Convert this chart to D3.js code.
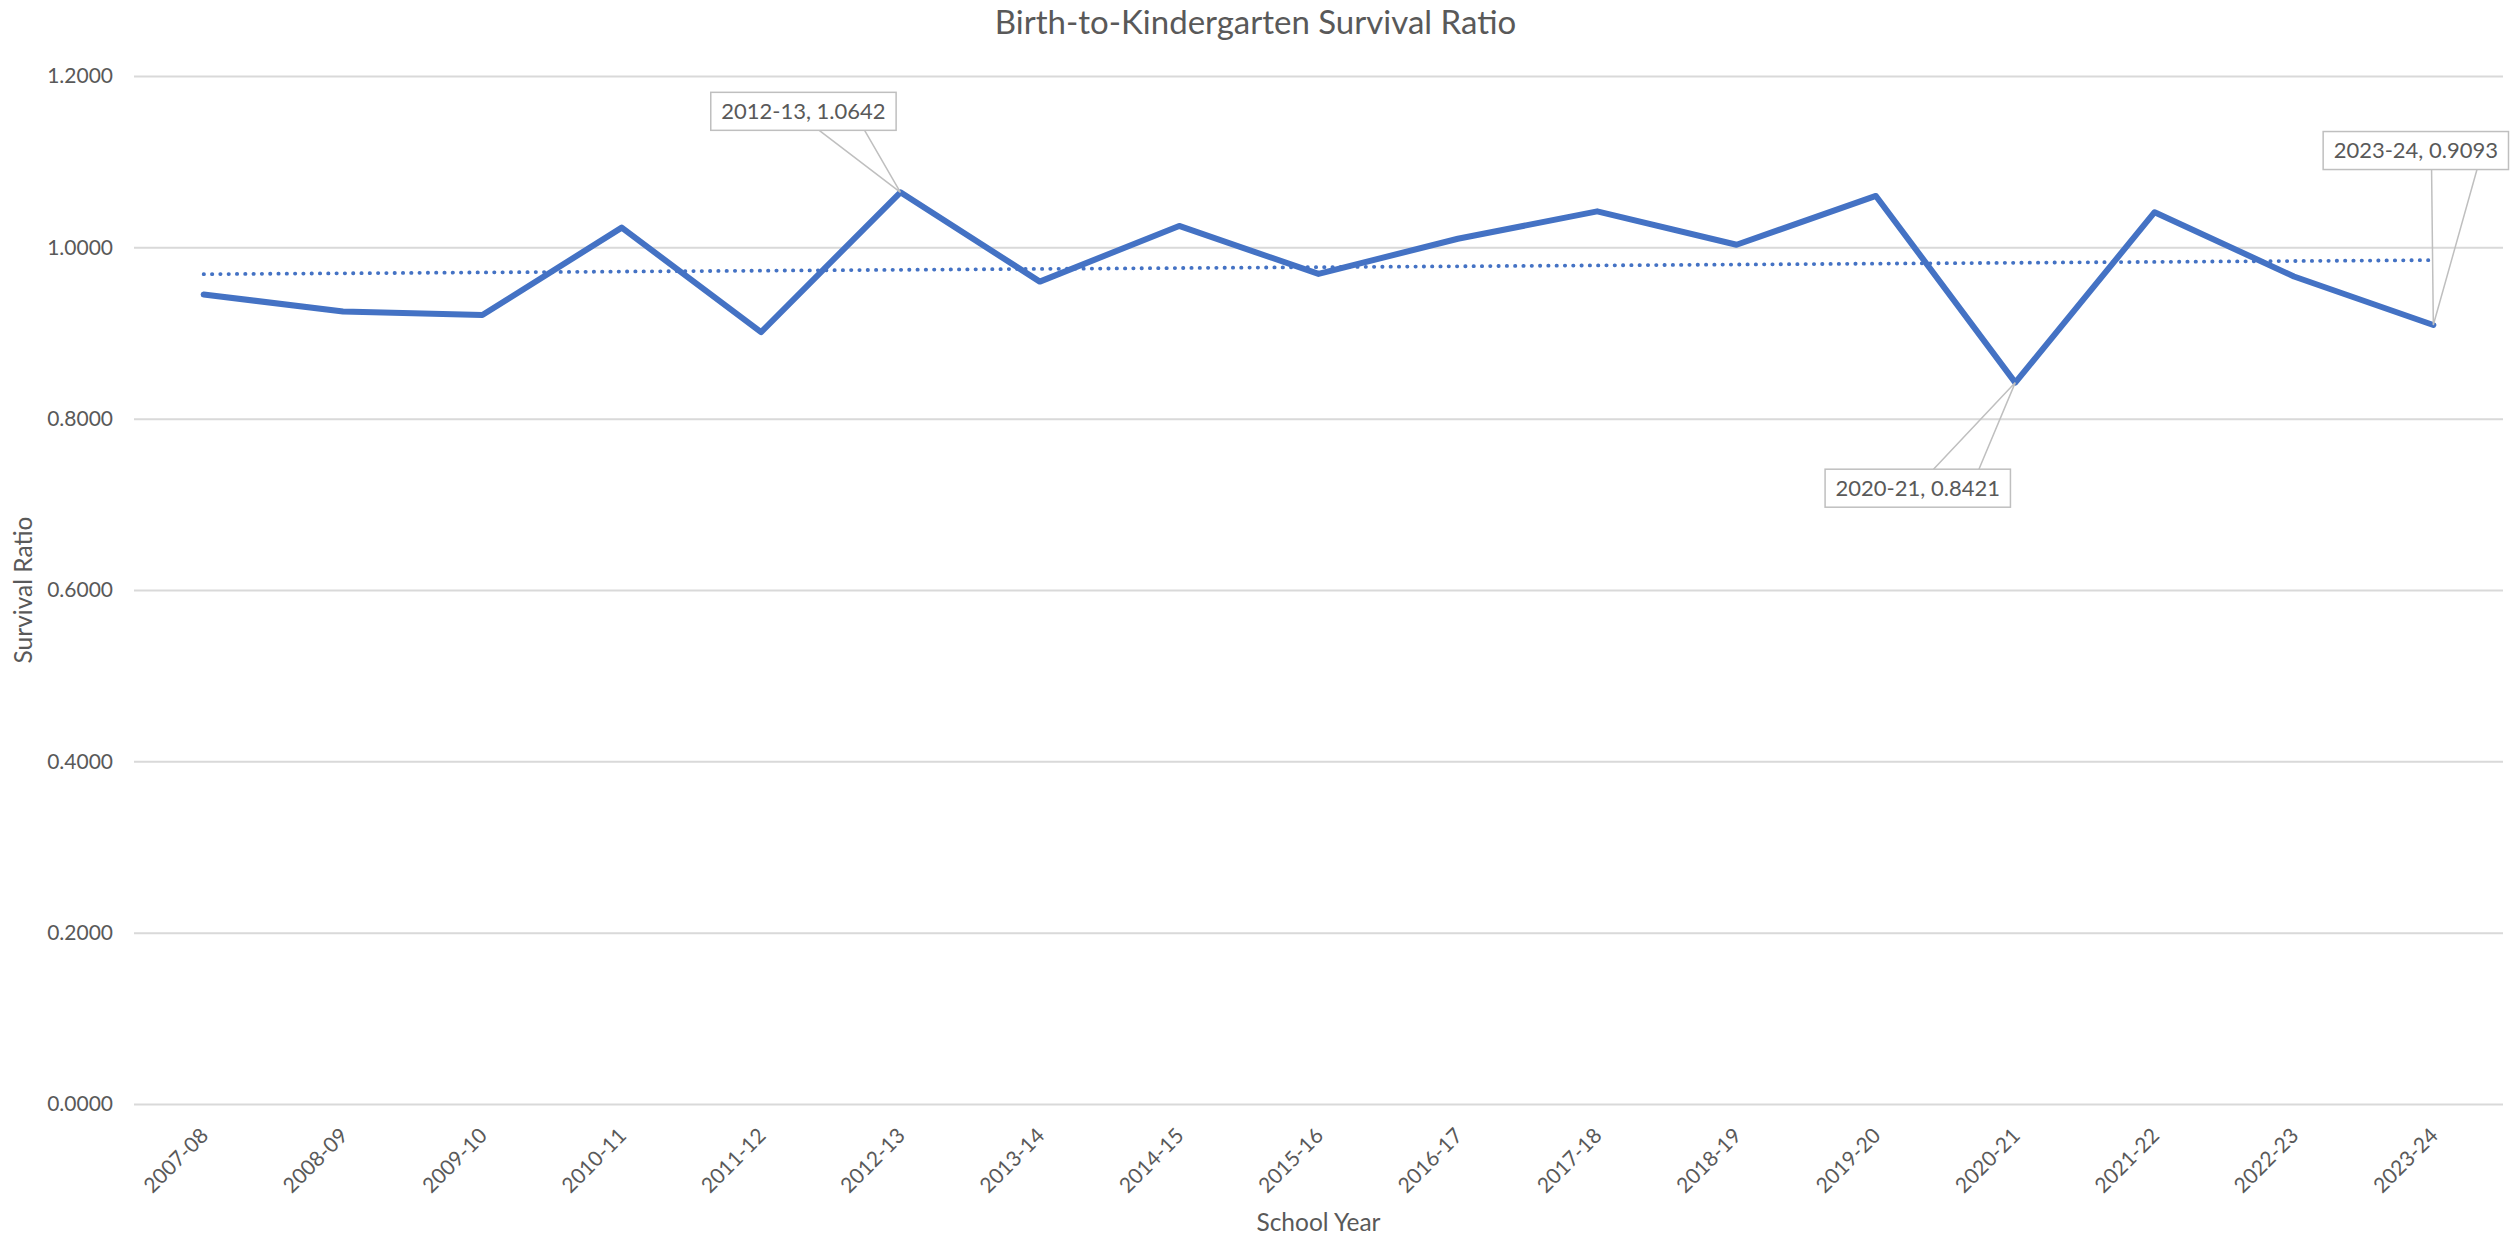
<!DOCTYPE html>
<html>
<head>
<meta charset="utf-8">
<script src="https://cdn.jsdelivr.net/npm/d3@7"></script>
<style>
  body { margin: 0; background: #fff; }
  svg { display: block; font-family: Lato, "Open Sans", sans-serif; }
</style>
</head>
<body>
<div id="chart"></div>
<script>
// ---- data ----
const categories = ["2007-08", "2008-09", "2009-10", "2010-11", "2011-12", "2012-13", "2013-14", "2014-15",
                    "2015-16", "2016-17", "2017-18", "2018-19", "2019-20", "2020-21", "2021-22", "2022-23", "2023-24"];
const ratios = [0.9450, 0.9250, 0.9210, 1.0230, 0.9010, 1.0642, 0.9600, 1.0250,
                0.9690, 1.0100, 1.0420, 1.0030, 1.0600, 0.8421, 1.0410, 0.9660, 0.9093];
const yTicks = [0, 0.2, 0.4, 0.6, 0.8, 1.0, 1.2];
const calloutYears = ["2012-13", "2020-21", "2023-24"];

// ---- layout ----
const width = 2511, height = 1239;
const plot = {left: 134, right: 2503, top: 76, bottom: 1104};
// where each callout box sits, relative to its point (box centre)
const calloutOffset = {"2012-13": [-97, -81], "2020-21": [-97.5, 105.6], "2023-24": [-17.5, -174.5]};
const textColor = "#595959";
const lineColor = "#4472C4";

let svg = d3.select("#chart").append("svg")
    .attr("width", width)
    .attr("height", height)
    .attr("viewBox", `0 0 ${width} ${height}`);

let x = d3.scaleBand()
    .domain(categories)
    .range([plot.left, plot.right]);
let cx = (c) => x(c) + x.bandwidth() / 2;

let y = d3.scaleLinear()
    .domain([0, 1.2])
    .range([plot.bottom, plot.top]);

/* Gridlines + Y ticks */
let yAxis = svg.append("g")
    .attr("transform", `translate(${plot.left}, 0)`)
    .call(d3.axisLeft(y)
        .tickValues(yTicks)
        .tickFormat(d3.format(".4f"))
        .tickSize(-(plot.right - plot.left))
        .tickPadding(21));
yAxis.select(".domain").remove();
yAxis.selectAll("line").attr("stroke", "#D9D9D9").attr("stroke-width", 2);
yAxis.selectAll("text")
    .attr("fill", textColor)
    .style("font-size", "21px")
    .style("font-family", "Lato, sans-serif");

/* X ticks, angled */
let xAxis = svg.append("g")
    .attr("transform", `translate(0, ${plot.bottom})`)
    .call(d3.axisBottom(x).tickSize(0).tickPadding(0));
xAxis.select(".domain").remove();
xAxis.selectAll("text")
    .attr("fill", textColor)
    .attr("dy", 0)
    .attr("y", 0)
    .attr("transform", "translate(6, 33) rotate(-45)")
    .style("text-anchor", "end")
    .style("font-size", "21px")
    .style("font-family", "Lato, sans-serif");

/* Linear trendline (least squares over the series) */
const n = ratios.length;
const xs = d3.range(n);
const mx = d3.mean(xs), my = d3.mean(ratios);
const slope = d3.sum(xs, i => (i - mx) * (ratios[i] - my)) / d3.sum(xs, i => (i - mx) ** 2);
const intercept = my - slope * mx;
const trend = [0, n - 1].map(i => ({cat: categories[i], value: intercept + slope * i}));

let line = d3.line()
    .x(d => cx(d.cat))
    .y(d => y(d.value));

svg.append("path")
    .datum(trend)
    .attr("d", line)
    .attr("fill", "none")
    .attr("stroke", lineColor)
    .attr("stroke-width", 3.8)
    .attr("stroke-linecap", "round")
    .attr("stroke-dasharray", "0.3 8");

/* Main series */
const series = categories.map((c, i) => ({cat: c, value: ratios[i]}));
svg.append("path")
    .datum(series)
    .attr("d", line)
    .attr("fill", "none")
    .attr("stroke", lineColor)
    .attr("stroke-width", 6)
    .attr("stroke-linejoin", "round")
    .attr("stroke-linecap", "round");

/* Callouts */
let callouts = svg.append("g");
for (let c of calloutYears) {
    let d = series.find(s => s.cat === c);
    let px = cx(d.cat), py = y(d.value);
    let [dx, dy] = calloutOffset[c];
    let g = callouts.append("g");
    let leader = g.append("path");
    let box = g.append("rect");
    let txt = g.append("text")
        .attr("x", px + dx)
        .attr("y", py + dy)
        .attr("dy", "0.35em")
        .attr("text-anchor", "middle")
        .attr("fill", textColor)
        .style("font-size", "22px")
        .text(`${d.cat}, ${d.value.toFixed(4)}`);
    let tw = txt.node().getComputedTextLength();
    let bw = tw + 21, bh = 38;
    let bx = px + dx - bw / 2, by = py + dy - bh / 2;
    box.attr("x", bx).attr("y", by).attr("width", bw).attr("height", bh)
        .attr("fill", "#fff").attr("stroke", "#BFBFBF").attr("stroke-width", 1.5);
    let edge = py > by ? by + bh : by;
    leader.attr("d", `M${bx + 0.585 * bw},${edge} L${px},${py} L${bx + 0.83 * bw},${edge}`)
        .attr("fill", "none").attr("stroke", "#BFBFBF").attr("stroke-width", 1.5);
}

/* Titles */
svg.append("text")
    .attr("x", width / 2)
    .attr("y", 34)
    .attr("text-anchor", "middle")
    .attr("fill", textColor)
    .style("font-size", "33px")
    .text("Birth-to-Kindergarten Survival Ratio");

svg.append("text")
    .attr("x", (plot.left + plot.right) / 2)
    .attr("y", 1231)
    .attr("text-anchor", "middle")
    .attr("fill", textColor)
    .style("font-size", "24.5px")
    .text("School Year");

svg.append("text")
    .attr("transform", `translate(32, ${(plot.top + plot.bottom) / 2}) rotate(-90)`)
    .attr("text-anchor", "middle")
    .attr("fill", textColor)
    .style("font-size", "24.5px")
    .text("Survival Ratio");
</script>
</body>
</html>
